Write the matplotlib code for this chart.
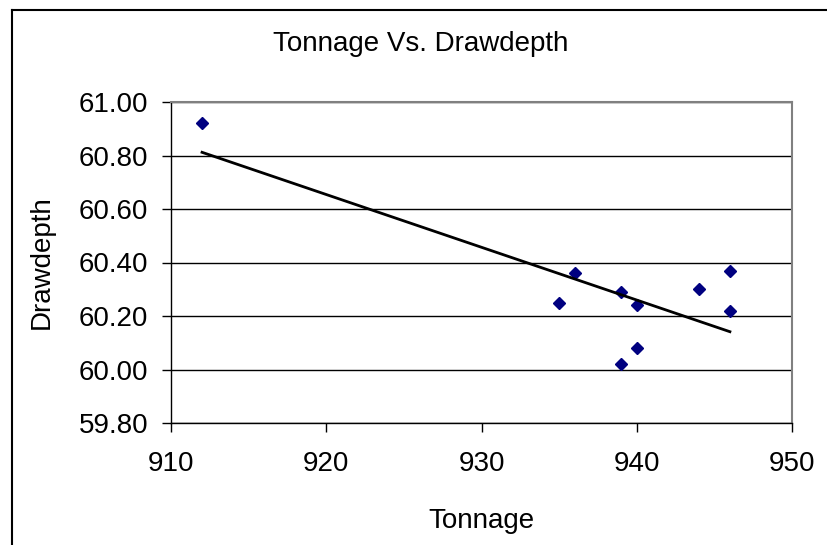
import numpy as np
import matplotlib
matplotlib.use('Agg')
import matplotlib.pyplot as plt
from matplotlib.lines import Line2D

# 데이터
tonnage = [912, 935, 936, 939, 940, 940, 939, 944, 946, 946]
drawdepth = [60.92, 60.25, 60.36, 60.29, 60.24, 60.08, 60.02, 60.30, 60.37, 60.22]
x_ticks = [910, 920, 930, 940, 950]
y_ticks = [59.80, 60.00, 60.20, 60.40, 60.60, 60.80, 61.00]

plt.rcParams['font.family'] = ['Liberation Sans', 'DejaVu Sans']

W, H = 828, 545
fig = plt.figure(figsize=(W / 100, H / 100), dpi=100)
ax = fig.add_axes([171 / W, 1 - 423 / H, (792 - 171) / W, (423 - 102) / H])

# 산점도
ax.plot(tonnage, drawdepth, linestyle='none', marker='D', markersize=6.5,
        color='#000080', zorder=3)

# 선형 추세선
coef = np.polyfit(tonnage, drawdepth, 1)
xs = np.array([min(tonnage), max(tonnage)])
ax.plot(xs, np.polyval(coef, xs), color='black', linewidth=2.0, zorder=4)

ax.set_xlim(910, 950)
ax.set_ylim(59.8, 61.0)
ax.set_xticks(x_ticks)
ax.set_yticks(y_ticks)
ax.set_yticklabels(['%.2f' % v for v in y_ticks])
ax.yaxis.grid(True, color='black', linewidth=1.0)
ax.set_axisbelow(True)

for s in ['top', 'right']:
    ax.spines[s].set_color('#808080')
    ax.spines[s].set_linewidth(1.5)
for s in ['left', 'bottom']:
    ax.spines[s].set_color('black')
    ax.spines[s].set_linewidth(1.0)

ax.tick_params(axis='both', direction='out', length=6.5, width=1.0,
               labelsize=20, color='black')
ax.tick_params(axis='y', pad=10)
ax.tick_params(axis='x', pad=14)

ax.set_xlabel('Tonnage', fontsize=20)
ax.set_ylabel('Drawdepth', fontsize=20)
ax.xaxis.set_label_coords(0.5, -0.265)
ax.yaxis.set_label_coords(-0.187, 0.5)

fig.text(421 / W, 1 - 44 / H, 'Tonnage Vs. Drawdepth', fontsize=20,
         ha='center', va='center')

# 차트 영역 테두리
fig.add_artist(Line2D([12 / W, 12 / W], [0, 1 - 10 / H], color='black', linewidth=1.5))
fig.add_artist(Line2D([12 / W, 1], [1 - 10 / H, 1 - 10 / H], color='black', linewidth=1.5))

fig.savefig('out.png', dpi=100)
